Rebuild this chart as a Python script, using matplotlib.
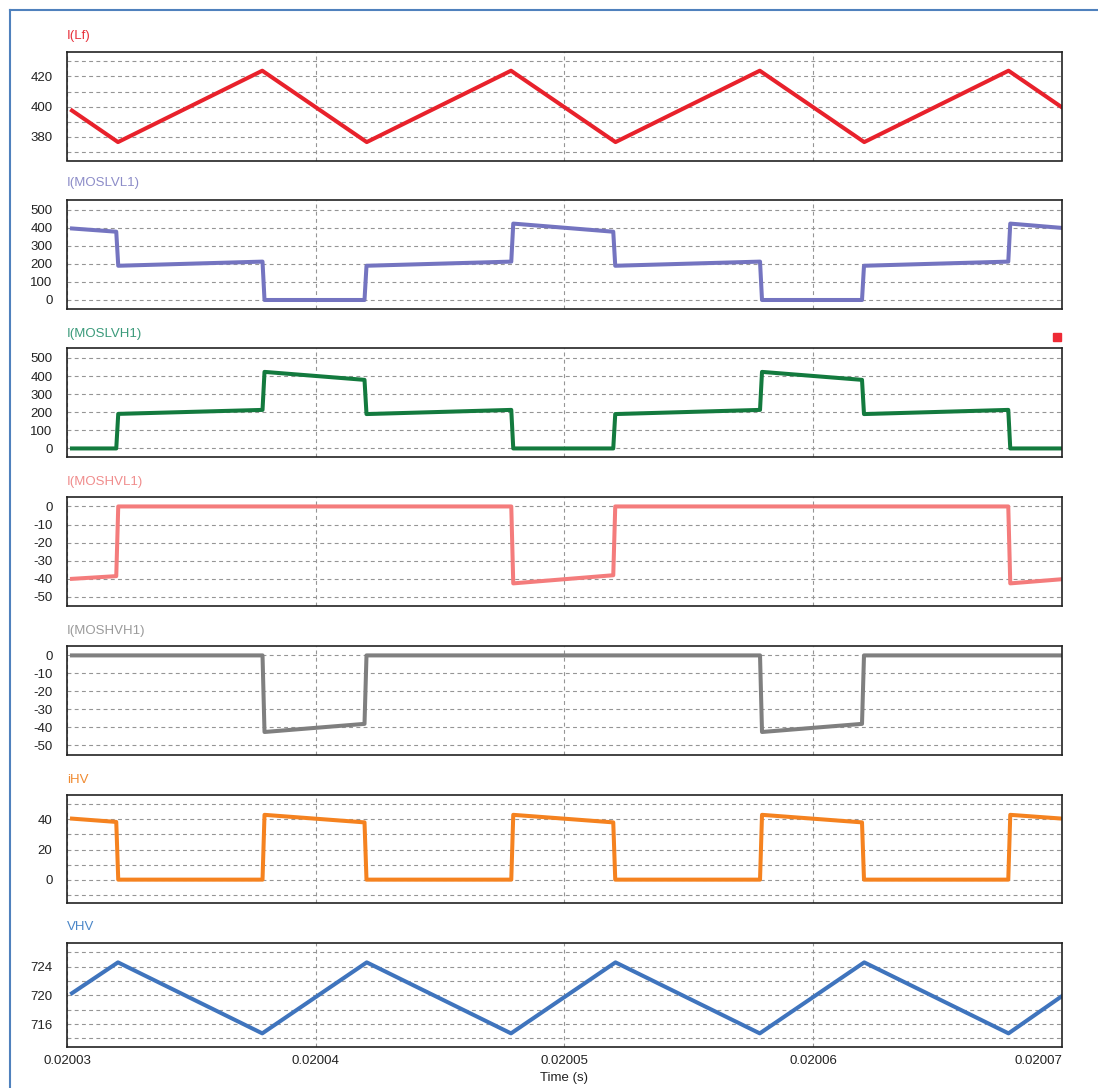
import matplotlib.pyplot as plt
from matplotlib.lines import Line2D
from matplotlib.patches import Rectangle
import numpy as np

plt.rcParams["font.family"] = ["Liberation Sans", "DejaVu Sans"]

plt.rcParams["axes.unicode_minus"] = False

# time window start (s); breakpoints below are in microseconds after it
T0 = 0.02003

# I(Lf) and VHV share the same triangle corners
tri_us = [0.2, 2.05, 7.85, 12.05, 17.85, 22.05, 27.85, 32.05, 37.85, 40.0]
lf_val = [397.4, 376.5, 423.8, 376.5, 423.8, 376.5, 423.8, 376.5, 423.8, 399.5]
vhv_val = [720.3, 724.6, 714.7, 724.6, 714.7, 724.6, 714.7, 724.6, 714.7, 719.9]

# switch currents share the same edges
sw_us = [0.2, 1.98, 2.06, 7.86, 7.94, 11.96, 12.04, 17.86, 17.94,
         21.96, 22.04, 27.86, 27.94, 31.96, 32.04, 37.84, 37.92, 40.0]
lvl1_val = [397, 379, 190, 213, 0, 0, 190, 213, 424,
            379, 190, 213, 0, 0, 190, 213, 424, 400]
lvh1_val = [0, 0, 191, 213, 423, 379, 190, 213, 0,
            0, 190, 213, 423, 379, 190, 213, 0, 0]
hvl1_val = [-40, -38.5, 0, 0, 0, 0, 0, 0, -42.5,
            -38, 0, 0, 0, 0, 0, 0, -42.5, -40.2]
hvh1_val = [0, 0, 0, 0, -42.5, -38, 0, 0, 0,
            0, 0, 0, -42.5, -38, 0, 0, 0, 0]
ihv_val = [40.5, 38.3, 0, 0, 43, 38, 0, 0, 43,
           38, 0, 0, 43, 38, 0, 0, 43, 40.5]

x_ticks = [0.02003, 0.02004, 0.02005, 0.02006, 0.02007]
x_labels = ["0.02003", "0.02004", "0.02005", "0.02006", "0.02007"]

panels = [
    ("I(Lf)", tri_us, lf_val, "#e8212b", "#e8303a",
     (364.3, 436.2), [380, 400, 420], [370, 390, 410, 430]),
    ("I(MOSLVL1)", sw_us, lvl1_val, "#7474c0", "#8c8cc8",
     (-50, 555), [0, 100, 200, 300, 400, 500], []),
    ("I(MOSLVH1)", sw_us, lvh1_val, "#137a3e", "#3a9a7a",
     (-50, 555), [0, 100, 200, 300, 400, 500], []),
    ("I(MOSHVL1)", sw_us, hvl1_val, "#f47c7c", "#f08c8c",
     (-55, 5.5), [-50, -40, -30, -20, -10, 0], []),
    ("I(MOSHVH1)", sw_us, hvh1_val, "#7f7f7f", "#9a9a9a",
     (-55, 5.5), [-50, -40, -30, -20, -10, 0], []),
    ("iHV", sw_us, ihv_val, "#f5821f", "#f08a30",
     (-15.5, 56.5), [0, 20, 40], [-10, 10, 30, 50]),
    ("VHV", tri_us, vhv_val, "#3f74bd", "#4a86c8",
     (712.8, 727.3), [716, 720, 724], [714, 718, 722, 726]),
]

# panel top / bottom / label centre in pixels
W, H = 1098, 1088
ax_left, ax_right = 67, 1062
tops = [52, 200, 348, 496.5, 645.5, 794.5, 943]
bottoms = [160.5, 309, 457.5, 606, 754.5, 903, 1047]
label_y = [36.5, 183, 334, 482, 631, 780, 927.5]

fig = plt.figure(figsize=(W / 100, H / 100), dpi=100)

for i, (name, us, vals, color, lcolor, ylim, yt, ymin) in enumerate(panels):

    ax = fig.add_axes([
        ax_left / W,
        1 - bottoms[i] / H,
        (ax_right - ax_left) / W,
        (bottoms[i] - tops[i]) / H,
    ])

    t = T0 + np.array(us) * 1e-6

    ax.plot(t, vals, color=color, linewidth=2.9)

    ax.set_xlim(0.02003, 0.02007)

    ax.set_ylim(*ylim)

    ax.set_yticks(yt)

    ax.set_yticks(ymin, minor=True)

    ax.set_xticks(x_ticks)

    ax.grid(True, which="both", color="#959595", linewidth=0.8,
            linestyle=(0, (3.5, 3)))

    ax.tick_params(which="both", length=0, labelsize=9.5,
                   labelcolor="#222222", pad=10.5)

    if i < len(panels) - 1:
        ax.set_xticklabels([])
    else:
        ax.set_xticklabels(x_labels)
        ax.get_xticklabels()[-1].set_horizontalalignment("right")
        ax.tick_params(axis="x", pad=6)
        ax.set_xlabel("Time (s)", fontsize=9.5, color="#222222", labelpad=3)

    for sp in ax.spines.values():
        sp.set_color("#222222")
        sp.set_linewidth(1.2)

    fig.text(ax_left / W, 1 - label_y[i] / H, name, color=lcolor,
             fontsize=9.5, va="center", ha="left")

# blue frame on top and left edges
fig.add_artist(Line2D([10 / W, 1], [1 - 9.5 / H, 1 - 9.5 / H],
                      color="#4f81bd", linewidth=1.5))

fig.add_artist(Line2D([10 / W, 10 / W], [0, 1 - 9.5 / H],
                      color="#4f81bd", linewidth=1.5))

# small red marker above the third panel
fig.add_artist(Rectangle((1053 / W, 1 - 341 / H), 8 / W, 8 / H,
                         color="#ee2a35", transform=fig.transFigure))

plt.savefig("out.png", dpi=100)

plt.close()
